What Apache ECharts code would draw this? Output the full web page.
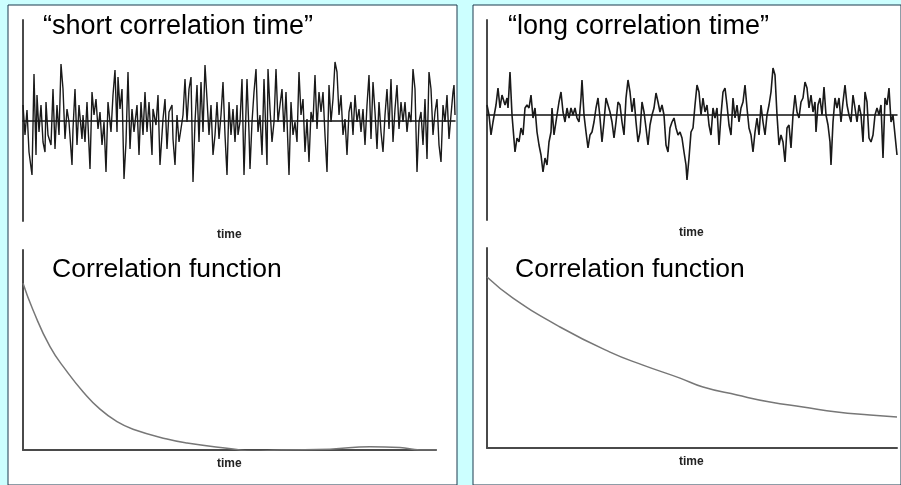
<!DOCTYPE html>
<html>
<head>
<meta charset="utf-8">
<script src="https://cdn.jsdelivr.net/npm/echarts@6/dist/echarts.min.js"></script>
<style>
  html, body { margin: 0; padding: 0; background: #ccffff; }
  #main { width: 901px; height: 485px; }
</style>
</head>
<body>
<div id="main"></div>
<script>
// short correlation time signal (time)
var shortT = [0,2,4,6,9,11,13,14,16,18,20,22,23,25,28,30,32,34,36,38,40,42,44,46,49,50,52,54,56,59,
  60,62,64,67,69,71,73,75,77,79,81,83,85,88,90,92,94,95,97,99,101,103,105,107,109,111,114,116,118,120,
  122,124,126,129,130,133,135,137,140,142,144,146,149,150,152,154,156,159,160,162,164,166,168,170,172,
  174,176,178,180,182,184,186,188,190,192,194,196,198,200,202,204,206,208,210,212,214,215,217,
  219,221,224,226,227,229,231,233,235,237,239,241,244,245,247,249,251,253,255,257,259,261,263,266,268,
  270,272,274,276,278,280,282,284,286,288,290,292,294,296,298,300,302,304,306,308,310,312,314,316,318,
  320,322,324,326,328,330,332,334,336,338,340,342,344,346,348,350,352,354,356,358,360,362,364,366,368,
  370,372,374,376,378,380,382,384,386,388,390,392,394,396,398,400,402,404,406,408,410,412,414,416,418,
  420,422,424,426,428,430,431,432];
var shortV = [16,-14,11,-31,-54,47,-34,26,-11,16,-21,-31,19,-14,-24,32,-28,16,-14,57,32,-18,12,-1,-44,-8,32,-24,16,-18,
  6,-21,19,-48,29,6,22,-8,9,-24,-1,-51,19,-11,26,51,-11,44,12,32,-58,-21,49,-28,12,-11,16,-34,19,-14,
  29,-11,19,-34,12,-4,26,-44,2,22,-28,9,16,-18,-44,6,-21,-1,6,42,-1,32,44,-61,-1,
  36,-21,39,-11,56,22,-14,16,-34,-14,19,-18,6,39,-14,-54,19,-14,12,-21,16,-14,-1,
  42,-54,42,-11,-48,-1,29,52,-11,6,-34,42,-44,52,12,-21,-1,52,-1,16,32,-11,29,-54,19,
  -14,-1,-21,49,6,22,-31,2,-41,9,-1,46,-8,29,9,29,-14,-51,36,-1,22,59,49,6,26,
  -14,2,-34,9,19,-14,26,-1,12,-11,12,-24,16,46,-18,39,9,-28,19,-11,-31,6,32,-8,42,
  -21,12,36,-8,19,-1,19,-11,9,-1,52,32,-51,-1,9,-24,22,-38,49,32,-14,9,22,-24,-41,
  16,-1,26,-18,6,29,36,6];

// long correlation time signal
var longT = [0,2,4,6,9,11,13,15,18,20,21,23,25,28,30,32,34,36,38,40,42,44,46,48,50,52,54,56,58,60,
  62,64,65,67,70,72,74,76,78,80,82,84,86,88,90,92,94,95,97,99,101,103,105,107,109,111,113,115,117,119,
  121,123,125,127,129,131,133,135,137,139,141,143,145,147,149,151,153,155,157,159,161,163,165,167,169,
  171,173,175,177,179,181,183,185,187,189,191,193,195,197,199,200,202,204,
  206,208,210,212,214,216,218,220,222,224,226,228,230,232,234,236,238,240,242,244,246,248,250,252,254,
  256,258,260,262,264,266,268,270,272,274,276,278,280,282,284,286,288,290,292,294,296,298,300,302,304,
  306,308,310,312,314,316,318,320,322,324,326,328,329,331,333,335,337,339,341,343,344,346,348,350,352,
  354,356,358,360,362,364,366,368,370,372,374,376,378,380,382,384,386,388,390,392,394,396,398,400,402,
  404,406,408,410];
var longV = [10,0,-20,-7,10,27,7,20,10,17,7,43,0,-37,-23,-27,-13,-20,7,10,7,20,-3,7,-17,-30,-40,-57,-43,-50,
  -27,-17,7,-20,0,13,23,3,-7,7,-3,7,0,7,-3,-7,17,35,0,-17,-33,-20,-17,-7,7,17,-3,-27,-7,17,
  10,3,-7,-23,-7,13,10,-7,-20,17,35,23,3,17,-7,-27,-17,13,3,-13,-30,-10,0,7,22,
  13,3,10,0,-30,-37,-13,-7,-3,-13,-20,-17,-23,-37,-50,-65,-43,-17,
  -13,10,30,23,0,17,3,10,-10,-20,7,-3,7,-30,0,23,27,10,-10,-20,17,-3,10,-7,7,
  13,30,7,-13,-20,-37,-17,-3,-20,10,-7,-20,0,10,23,47,40,0,-30,-20,-27,-47,-13,-10,-33,
  0,20,3,-3,13,17,33,27,7,20,3,13,-17,10,17,0,28,0,-10,-27,-50,-7,17,7,17,
  -7,13,30,10,0,-7,20,7,-7,10,0,-27,23,13,-23,-27,-20,0,7,0,10,-43,17,10,27,
  -7,0,-20,-40];

// correlation functions
var shortCorrT = [0,10,27,44,60,77,94,110,144,164,210,230,257,307,347,377,397,413];
var shortCorrV = [1.0,0.84,0.62,0.47,0.35,0.245,0.17,0.125,0.066,0.042,0.006,-0.008,0,0.005,0.02,0.015,0,0];
var longCorrT = [0,26,73,123,156,193,216,250,283,316,350,383,410];
var longCorrV = [1.0,0.877,0.708,0.561,0.485,0.409,0.357,0.31,0.269,0.24,0.21,0.193,0.181];

function pairs(t, v) {
  return t.map(function (x, i) { return [x, v[i]]; });
}

var chart = echarts.init(document.getElementById('main'), null, { renderer: 'canvas' });

var font = 'Liberation Sans, Arial, sans-serif';
var topText = { fontFamily: font, fontSize: 27, fontWeight: 'normal', color: '#000' };
var corrText = { fontFamily: font, fontSize: 26.5, fontWeight: 'normal', color: '#000' };
var smallText = { fontFamily: font, fontSize: 12, fontWeight: 'bold', color: '#222' };

function hidden() {
  return { show: false };
}
function xAx(grid, max, lineColor, lineWidth) {
  return {
    gridIndex: grid, type: 'value', min: 0, max: max,
    axisLine: { show: true, onZero: true, lineStyle: { color: lineColor, width: lineWidth } },
    axisTick: hidden(), axisLabel: hidden(), splitLine: hidden()
  };
}
function yAx(grid, min, max) {
  return {
    gridIndex: grid, type: 'value', min: min, max: max,
    axisLine: { show: true, onZero: false, lineStyle: { color: '#4a4a4a', width: 2 } },
    axisTick: hidden(), axisLabel: hidden(), splitLine: hidden()
  };
}

var option = {
  backgroundColor: '#ccffff',
  animation: false,
  title: [
    { text: '\u201Cshort correlation time\u201D', left: 43, top: 13, padding: 0, textStyle: topText },
    { text: '\u201Clong correlation time\u201D', left: 508, top: 13, padding: 0, textStyle: topText },
    { text: 'Correlation function', left: 52, top: 256, padding: 0, textStyle: corrText },
    { text: 'Correlation function', left: 515, top: 256, padding: 0, textStyle: corrText },
    { text: 'time', left: 217, top: 229, padding: 0, textStyle: smallText },
    { text: 'time', left: 217, top: 458, padding: 0, textStyle: smallText },
    { text: 'time', left: 679, top: 227, padding: 0, textStyle: smallText },
    { text: 'time', left: 679, top: 456, padding: 0, textStyle: smallText }
  ],
  grid: [
    // white panels
    { left: 8, top: 5, width: 449, height: 495, show: true, backgroundColor: '#ffffff', borderColor: '#1d3b4f', borderWidth: 1 },
    { left: 473, top: 5, width: 440, height: 495, show: true, backgroundColor: '#ffffff', borderColor: '#1d3b4f', borderWidth: 1 },
    // plots
    { left: 23, top: 20, width: 432, height: 201 },
    { left: 23, top: 250, width: 413, height: 200 },
    { left: 487, top: 20, width: 410, height: 200 },
    { left: 487, top: 248, width: 410, height: 200 }
  ],
  xAxis: [
    { gridIndex: 0, type: 'value', show: false },
    { gridIndex: 1, type: 'value', show: false },
    xAx(2, 432, '#111', 1.5),
    xAx(3, 413, '#4a4a4a', 2),
    xAx(4, 410, '#111', 1.5),
    xAx(5, 410, '#4a4a4a', 2)
  ],
  yAxis: [
    { gridIndex: 0, type: 'value', show: false },
    { gridIndex: 1, type: 'value', show: false },
    yAx(2, -100, 101),
    yAx(3, 0, 1.2),
    yAx(4, -105, 95),
    yAx(5, 0, 1.17)
  ],
  series: [
    {
      type: 'line', xAxisIndex: 2, yAxisIndex: 2, data: pairs(shortT, shortV),
      showSymbol: false, lineStyle: { color: '#1a1a1a', width: 1.4 }, z: 1
    },
    {
      type: 'line', xAxisIndex: 3, yAxisIndex: 3, data: pairs(shortCorrT, shortCorrV),
      showSymbol: false, smooth: true, lineStyle: { color: '#777', width: 1.5 }
    },
    {
      type: 'line', xAxisIndex: 4, yAxisIndex: 4, data: pairs(longT, longV),
      showSymbol: false, lineStyle: { color: '#1a1a1a', width: 1.6 }, z: 1
    },
    {
      type: 'line', xAxisIndex: 5, yAxisIndex: 5, data: pairs(longCorrT, longCorrV),
      showSymbol: false, smooth: true, lineStyle: { color: '#777', width: 1.5 }
    }
  ]
};

chart.setOption(option);
</script>
</body>
</html>
